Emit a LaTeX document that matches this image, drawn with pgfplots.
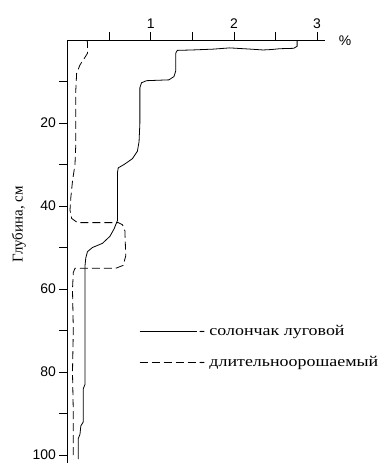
\documentclass[border=0pt]{standalone}
\usepackage{pgfplots}
\pgfplotsset{compat=1.18}
\usepackage{fontspec}
\setmainfont{Liberation Serif}
\newfontfamily\numfont{Liberation Sans}
\newfontfamily\legfont[FakeStretch=1.2]{Liberation Serif}
\begin{document}
\begin{tikzpicture}
\useasboundingbox (-67.5bp,-425bp) rectangle (320.5bp,40bp);
\begin{axis}[
  at={(0,0)}, anchor=north west,
  x=83.2bp, y=4.15bp, y dir=reverse,
  xmin=0, xmax=3.1, ymin=0, ymax=102,
  axis x line*=top, axis y line*=left,
  axis line style={line width=0.9pt},
  tick style={line width=0.8pt, black},
  tick align=outside, major tick length=8bp,
  xtick={0.5,1,1.5,2,2.5,3}, xticklabels={,1,,2,,3},
  ytick={10,20,30,40,50,60,70,80,90,100}, yticklabels={,20,,40,,60,,80,,100},
  /pgf/number format/assume math mode=true,
  tick label style={font=\numfont\fontsize{14}{14}\selectfont},
  xlabel={\numfont\fontsize{14}{14}\selectfont\%},
  xlabel style={at={(rel axis cs:1,1)}, anchor=west, xshift=10bp, yshift=-1bp},
  ylabel={Глубина, см},
  ylabel style={at={(ticklabel cs:0.56)}, xshift=2bp, font=\fontsize{15}{15}\selectfont},
  legend style={at={(axis cs:0.86,68.3)}, anchor=north west, draw=none, fill=none,
    font=\legfont\fontsize{15}{15}\selectfont, row sep=15bp, inner sep=0pt},
  legend cell align=left,
  legend image code/.code={\draw[#1] (0bp,0bp) -- (57bp,0bp);},
]
\addplot[black, line width=0.8pt] coordinates {
(2.76,0) (2.76,1.5) (2.72,2.0) (2.55,2.1) (2.45,2.3) (2.35,2.4) (2.2,2.2)
(1.95,1.9) (1.75,2.2) (1.5,2.4) (1.32,2.5) (1.30,3.2) (1.30,7.5) (1.28,8.8)
(1.22,9.6) (0.95,9.8) (0.89,10.3) (0.87,11.5) (0.87,20) (0.86,24.5) (0.84,26.8)
(0.78,28.6) (0.68,30) (0.61,30.8) (0.60,32) (0.60,43.5) (0.56,45.5) (0.51,47.3)
(0.42,49) (0.30,50) (0.24,51) (0.22,52.5) (0.21,54.5) (0.21,70) (0.21,83)
(0.19,84) (0.19,92) (0.16,93) (0.15,95) (0.13,96) (0.13,101)
};
\addlegendentry{- солончак луговой}
\addplot[black, line width=0.8pt, dash pattern=on 8bp off 4bp] coordinates {
(0.23,0) (0.24,0.5) (0.24,3.2) (0.20,4.5) (0.15,6) (0.11,8) (0.10,12) (0.10,25)
(0.09,30) (0.06,34) (0.04,38) (0.03,41) (0.05,43) (0.12,44) (0.61,44)
(0.66,44.5) (0.69,46) (0.70,52) (0.67,54.3) (0.58,55) (0.09,55) (0.07,56)
(0.06,60) (0.07,70) (0.06,80) (0.07,90) (0.07,101)
};
\addlegendentry{- длительноорошаемый}
\end{axis}
\end{tikzpicture}
\end{document}
